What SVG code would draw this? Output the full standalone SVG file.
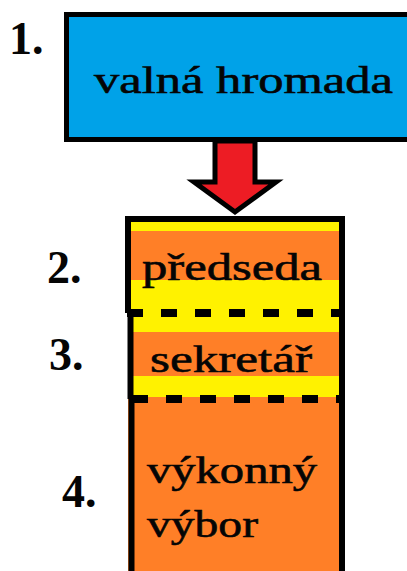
<svg xmlns="http://www.w3.org/2000/svg" width="407" height="571" viewBox="0 0 407 571">
  <style>
    .lbl { font-family: "Liberation Serif", "Times New Roman", serif; font-size: 38px; fill: #050505; stroke: #050505; stroke-width: 0.6; }
    .num { font-family: "Liberation Serif", "Times New Roman", serif; font-size: 46px; font-weight: bold; fill: #050505; }
    .edge { stroke: #000; stroke-width: 6; fill: none; }
    .dash { stroke: #000; stroke-width: 8; stroke-dasharray: 16 18; fill: none; }
  </style>
  <rect width="407" height="571" fill="#ffffff"/>

  <g id="node-valna-hromada">
    <rect x="66.5" y="14.5" width="360" height="125" fill="#00A2E8" stroke="#000" stroke-width="5"/>
    <text class="lbl" x="94" y="93" textLength="299" lengthAdjust="spacingAndGlyphs">valná hromada</text>
    <text class="num" x="9" y="54">1.</text>
  </g>

  <g id="connectors">
    <polygon points="215,141 255,141 255,182 276,182 235,212 194,182 215,182" fill="#ED1C24" stroke="#000" stroke-width="5" stroke-linejoin="miter"/>
  </g>

  <g id="node-stack">
    <rect x="128" y="219" width="214" height="352" fill="#FF7F27"/>
    <rect x="128" y="222" width="214" height="9" fill="#FFF200"/>
    <rect x="128" y="280" width="214" height="52" fill="#FFF200"/>
    <rect x="130" y="376" width="212" height="21" fill="#FFF200"/>
    <line class="edge" x1="125" y1="219" x2="345" y2="219"/>
    <line class="edge" x1="128" y1="216" x2="128" y2="313"/>
    <line class="edge" x1="130.5" y1="311" x2="130.5" y2="399"/>
    <line class="edge" x1="131.5" y1="397" x2="131.5" y2="571"/>
    <line class="edge" x1="342" y1="216" x2="342" y2="571"/>
    <line class="dash" x1="125" y1="313" x2="345" y2="313" stroke-dashoffset="-2"/>
    <line class="dash" x1="128" y1="399" x2="345" y2="399" stroke-dashoffset="-4"/>
  </g>

  <g id="node-predseda">
    <text class="lbl" x="142" y="280" textLength="180" lengthAdjust="spacingAndGlyphs">předseda</text>
    <text class="num" x="47" y="283">2.</text>
  </g>

  <g id="node-sekretar">
    <text class="lbl" x="150" y="372" textLength="162" lengthAdjust="spacingAndGlyphs">sekretář</text>
    <text class="num" x="49" y="370">3.</text>
  </g>

  <g id="node-vykonny-vybor">
    <text class="lbl" x="147" y="483" textLength="170" lengthAdjust="spacingAndGlyphs">výkonný</text>
    <text class="lbl" x="147" y="537" textLength="111" lengthAdjust="spacingAndGlyphs">výbor</text>
    <text class="num" x="62" y="507">4.</text>
  </g>
</svg>
